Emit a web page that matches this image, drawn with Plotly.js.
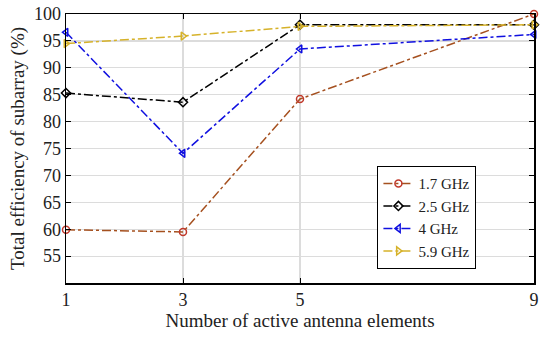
<!DOCTYPE html>
<html><head><meta charset="utf-8">
<script src="https://cdn.plot.ly/plotly-3.0.1.min.js"></script>
<style>html,body{margin:0;padding:0;background:#fff}#chart{width:550px;height:340px}</style>
</head><body><div id="chart"></div>
<script>
const elements = [1, 3, 5, 9];
const seriesNames = ['1.7 GHz', '2.5 GHz', '4 GHz', '5.9 GHz'];
const eff17 = [59.9, 59.5, 84.2, 100];
const eff25 = [85.3, 83.6, 98.0, 98.0];
const eff4 = [96.6, 74.1, 93.5, 96.2];
const eff59 = [94.5, 95.9, 97.7, 98.0];
const xTicks = [1, 3, 5, 9];
const yTicks = [55, 60, 65, 70, 75, 80, 85, 90, 95, 100];

const styles = [
  {line: '#a5501f', marker: '#c0392b', symbol: 'circle-open'},
  {line: '#000000', marker: '#000000', symbol: 'diamond-open'},
  {line: '#1010e0', marker: '#1010e0', symbol: 'triangle-left-open'},
  {line: '#d6b22a', marker: '#d6b22a', symbol: 'triangle-right-open'}
];
const ys = [eff17, eff25, eff4, eff59];
const traces = ys.map((y, i) => ({
  x: elements, y: y, name: seriesNames[i], type: 'scatter', mode: 'lines+markers',
  line: {color: styles[i].line, width: 1.5, dash: 'dashdot'},
  marker: {symbol: styles[i].symbol, size: 7, color: styles[i].marker, line: {width: 1.5, color: styles[i].marker}},
  cliponaxis: false
}));

const fam = '"Liberation Serif", "Times New Roman", serif';
const layout = {
  width: 550, height: 340,
  margin: {l: 66, r: 16, t: 14, b: 57},
  paper_bgcolor: '#fff', plot_bgcolor: '#fff',
  font: {family: fam, color: '#222', size: 18},
  showlegend: true,
  legend: {x: 0.665, y: 0.435, xanchor: 'left', yanchor: 'top', bgcolor: '#fff',
    bordercolor: '#000', borderwidth: 1.2, font: {family: fam, size: 15, color: '#222'},
    tracegroupgap: 0, itemwidth: 30},
  xaxis: {range: [1, 9], tickvals: xTicks, ticktext: xTicks.map(String),
    showgrid: true, gridcolor: '#dcdcdc', gridwidth: 1.2, zeroline: false,
    showline: true, linecolor: '#000', linewidth: 1.5, mirror: 'ticks',
    ticks: 'inside', ticklen: 5, tickcolor: '#000', tickfont: {family: fam, size: 18, color: '#222'},
    title: {text: 'Number of active antenna elements', font: {family: fam, size: 19, color: '#222'}, standoff: 4}},
  yaxis: {range: [50, 100], tickvals: yTicks, ticktext: yTicks.map(String),
    showgrid: true, gridcolor: '#dcdcdc', gridwidth: 1.2, zeroline: false,
    showline: true, linecolor: '#000', linewidth: 1.5, mirror: 'ticks',
    ticks: 'inside', ticklen: 5, tickcolor: '#000', tickfont: {family: fam, size: 18, color: '#222'},
    title: {text: 'Total efficiency of subarray (%)', font: {family: fam, size: 19, color: '#222'}, standoff: 4}}
};
Plotly.newPlot('chart', traces, layout, {displayModeBar: false, staticPlot: true});
</script></body></html>
